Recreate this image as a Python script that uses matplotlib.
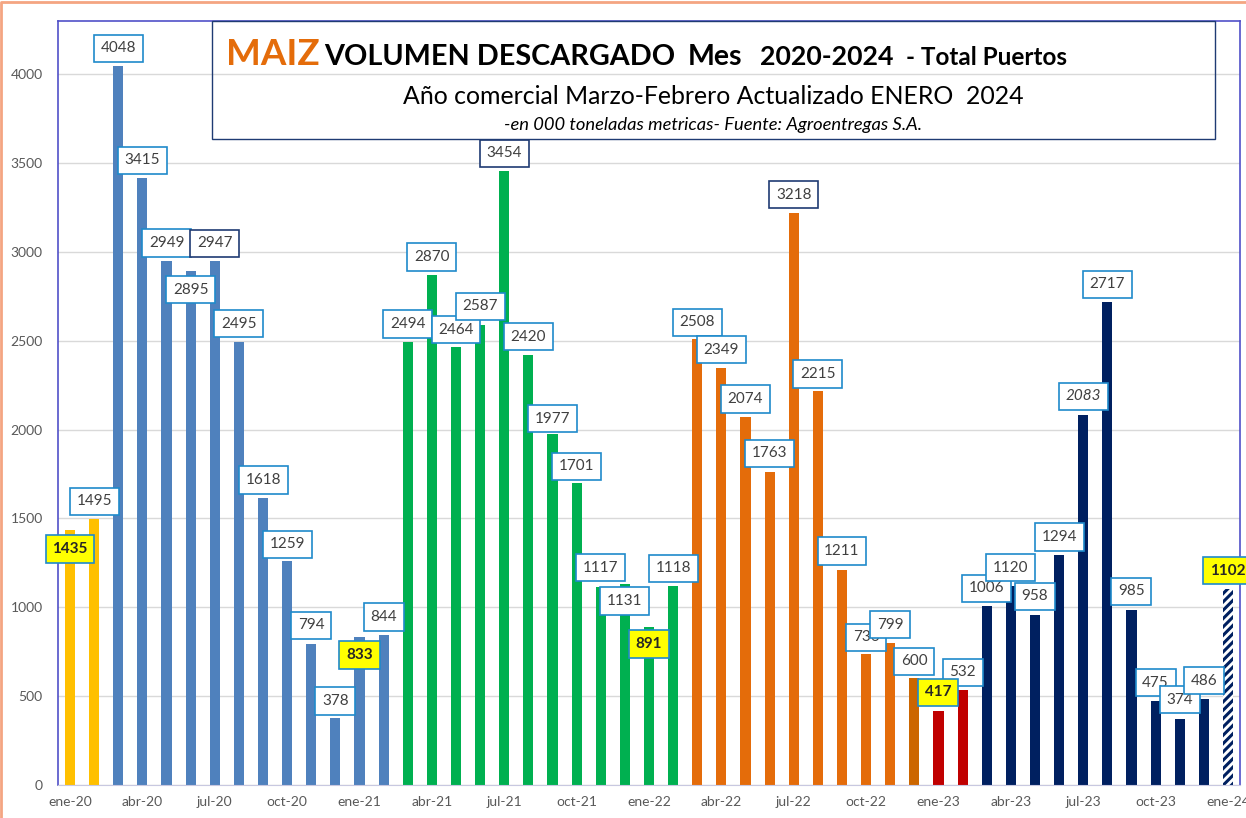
import matplotlib.pyplot as plt
from matplotlib.lines import Line2D
from matplotlib.patches import Rectangle

# datos: volumen mensual descargado (miles de toneladas)
meses = ['ene-20', 'feb-20', 'mar-20', 'abr-20', 'may-20', 'jun-20', 'jul-20', 'ago-20', 'sep-20', 'oct-20',
         'nov-20', 'dic-20', 'ene-21', 'feb-21', 'mar-21', 'abr-21', 'may-21', 'jun-21', 'jul-21', 'ago-21',
         'sep-21', 'oct-21', 'nov-21', 'dic-21', 'ene-22', 'feb-22', 'mar-22', 'abr-22', 'may-22', 'jun-22',
         'jul-22', 'ago-22', 'sep-22', 'oct-22', 'nov-22', 'dic-22', 'ene-23', 'feb-23', 'mar-23', 'abr-23',
         'may-23', 'jun-23', 'jul-23', 'ago-23', 'sep-23', 'oct-23', 'nov-23', 'dic-23', 'ene-24']
volumen = [1435, 1495, 4048, 3415, 2949, 2895, 2947, 2495, 1618, 1259,
           794, 378, 833, 844, 2494, 2870, 2464, 2587, 3454, 2420,
           1977, 1701, 1117, 1131, 891, 1118, 2508, 2349, 2074, 1763,
           3218, 2215, 1211, 736, 799, 600, 417, 532, 1006, 1120,
           958, 1294, 2083, 2717, 985, 475, 374, 486, 1102]
yticks = [0, 500, 1000, 1500, 2000, 2500, 3000, 3500, 4000]

# estilo
colores = (['#FFC000'] * 2 + ['#4F81BD'] * 12 + ['#00B050'] * 12 + ['#E46C0A'] * 9
           + ['#CC6600'] + ['#C00000'] * 2 + ['#002060'] * 11)
# desplazamiento vertical de las etiquetas (pixeles, + arriba de la barra)
desp = [-19, 18, 17.5, 18, 18, -19, 18, 18, 17.5, 17, 18.5, 17, -18, 18, 18, 18, 17.5, 19, 18, 18.5,
        15, 16.5, 19, -17, -17.5, 18, 17, 18, 17.5, 18.5, 18.5, 17.5, 19, 17, 18.5, 17, 18.5, 18, 18,
        18.5, 18.5, 18, 18.5, 18, 18.5, 18, 19, 18, 18.5]
amarillas = [0, 12, 24, 36, 48]
bordes_oscuros = [6, 18, 30]
italicas = [42]

plt.rcParams['font.family'] = ['Lato', 'DejaVu Sans']
plt.rcParams['hatch.linewidth'] = 2.2

W, H = 1246, 818
fig = plt.figure(figsize=(W / 100, H / 100), dpi=100)
ax = fig.add_axes([58 / W, 1 - 785 / H, (1240 - 58) / W, (785 - 21) / H])

x = list(range(len(volumen)))
ax.bar(x[:-1], volumen[:-1], width=0.42, color=colores, zorder=2)
ax.bar(x[-1], volumen[-1], width=0.42, color='white', edgecolor='#002060', hatch='////',
       linewidth=0, zorder=2)

for i, v in enumerate(volumen):
    borde = '#1F3B73' if i in bordes_oscuros else '#1F8ACB'
    fondo = '#FFFF00' if i in amarillas else 'white'
    peso = 'bold' if i in amarillas else 'normal'
    estilo = 'italic' if i in italicas else 'normal'
    ax.annotate(str(v), xy=(i, v), xytext=(0, desp[i] * 0.72), textcoords='offset points',
                ha='center', va='center', fontsize=11, color='#262626' if i in amarillas else '#404040',
                fontweight=peso, fontstyle=estilo, annotation_clip=False,
                zorder=6 if i in amarillas else 5,
                bbox=dict(boxstyle='square,pad=0.44', fc=fondo, ec=borde, lw=1.2))

ax.set_xlim(-0.5, 48.5)
ax.set_ylim(0, 4300)
ax.set_yticks(yticks)
ax.set_yticklabels([str(t) for t in yticks])
ax.set_xticks(x[::3])
ax.set_xticklabels(meses[::3])
ax.tick_params(axis='both', length=0, labelsize=10, labelcolor='#595959')
ax.tick_params(axis='y', pad=11)
ax.tick_params(axis='x', pad=8)
ax.grid(axis='y', color='#D9D9D9', linewidth=1, zorder=0)
ax.set_axisbelow(True)
for lado in ['left', 'top', 'right']:
    ax.spines[lado].set_color('#5050C8')
    ax.spines[lado].set_linewidth(1.2)
ax.spines['bottom'].set_color('#C8C8E0')

# recuadro del titulo
fig.patches.append(Rectangle((212 / W, 1 - 139 / H), (1215 - 212) / W, (139 - 21) / H,
                             transform=fig.transFigure, fill=False, ec='#1F3B73', lw=1, zorder=7))
yb = 1 - 65 / H
fig.text(226 / W, yb, 'MAIZ', fontsize=26.5, fontweight='bold', color='#E46C0A', va='baseline')
fig.text(324 / W, yb, 'VOLUMEN DESCARGADO', fontsize=20.7, fontweight='bold', color='black', va='baseline')
fig.text(688 / W, yb, 'Mes', fontsize=20.5, fontweight='bold', color='black', va='baseline')
fig.text(760 / W, yb, '2020-2024', fontsize=19.2, fontweight='bold', color='black', va='baseline')
fig.text(906 / W, yb, '- Total Puertos', fontsize=17.5, fontweight='bold', color='black', va='baseline')
fig.text(713 / W, 1 - 104 / H, 'Año comercial Marzo-Febrero Actualizado ENERO  2024', fontsize=17.9,
         color='black', ha='center', va='baseline')
fig.text(713 / W, 1 - 130 / H, '-en 000 toneladas metricas- Fuente: Agroentregas S.A.', fontsize=13.2,
         fontstyle='italic', color='black', ha='center', va='baseline')

# borde naranja exterior
fig.lines.append(Line2D([0.001, 0.001, 1], [0, 0.998, 0.998], transform=fig.transFigure,
                        color='#F4A582', lw=2))

plt.savefig('out.png', dpi=100)
